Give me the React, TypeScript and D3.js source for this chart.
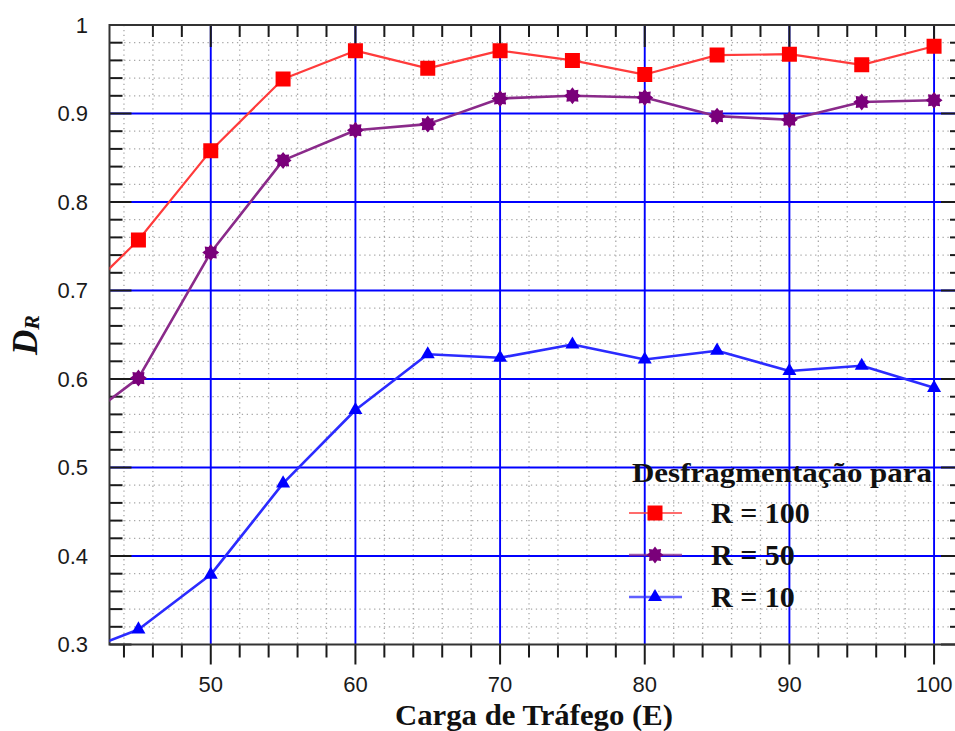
import React from "react";
import * as d3 from "d3";

// Traffic load (Erlang) and defragmentation ratio per R setting
const loads = [40, 45, 50, 55, 60, 65, 70, 75, 80, 85, 90, 95, 100];
const r100 = [0.677, 0.757, 0.858, 0.939, 0.971, 0.951, 0.971, 0.96, 0.944, 0.966, 0.967, 0.955, 0.976];
const r50 = [0.539, 0.601, 0.743, 0.847, 0.881, 0.888, 0.917, 0.92, 0.918, 0.897, 0.893, 0.913, 0.915];
const r10 = [0.285, 0.317, 0.379, 0.482, 0.565, 0.628, 0.624, 0.639, 0.622, 0.632, 0.609, 0.615, 0.59];

const xMajorTicks = [50, 60, 70, 80, 90, 100];
const yMajorTicks = [0.3, 0.4, 0.5, 0.6, 0.7, 0.8, 0.9, 1];
const yTickLabels = ["0.3", "0.4", "0.5", "0.6", "0.7", "0.8", "0.9", "1"];

const legendTitle = "Desfragmentação para";
const seriesNames = ["R = 100", "R = 50", "R = 10"];

const W = 955;
const H = 731;
const left = 109.5;
const right = 963;
const top = 25;
const bottom = 644.5;

const x = d3.scaleLinear().domain([43, 102]).range([left, right]);
const y = d3.scaleLinear().domain([0.3, 1]).range([bottom, top]);

const xMinor = d3.range(44, 103, 2).filter((v) => v % 10 !== 0);
const yMinor = d3
  .range(32, 100, 2)
  .filter((v) => v % 10 !== 0)
  .map((v) => v / 100);

function starPath(r: number, inner: number, n: number) {
  const pts: [number, number][] = [];
  for (let i = 0; i < n * 2; i++) {
    const a = (Math.PI * i) / n - Math.PI / 2;
    const rr = i % 2 === 0 ? r : inner;
    pts.push([Math.cos(a) * rr, Math.sin(a) * rr]);
  }
  return "M" + pts.map((p) => p.join(",")).join("L") + "Z";
}

const squareD = d3.symbol().type(d3.symbolSquare).size(15 * 15)()!;
const triD = d3.symbol().type(d3.symbolTriangle).size(85)()!;
const starD = starPath(8.5, 6, 8);

const series = [
  { name: seriesNames[0], values: r100, line: "#ff3b3b", fill: "#ff0000", marker: squareD, width: 2.2 },
  { name: seriesNames[1], values: r50, line: "#8a2a8a", fill: "#7a007a", marker: starD, width: 2.6 },
  { name: seriesNames[2], values: r10, line: "#2b2bff", fill: "#0000ff", marker: triD, width: 2.6 },
];

const lineGen = d3
  .line<number>()
  .x((_, i) => x(loads[i]))
  .y((d) => y(d));

export default function App() {
  const axisColor = "#1a1a1a";
  return (
    <div style={{ position: "fixed", left: 0, top: 0, width: W, height: H, background: "#fff" }}>
      <svg width={W} height={H} style={{ display: "block" }}>
        <defs>
          <clipPath id="plot">
            <rect x={left} y={top} width={right - left} height={bottom - top} />
          </clipPath>
        </defs>
        <rect x={0} y={0} width={W} height={H} fill="#fff" />

        {/* dotted minor grid */}
        <g stroke="#a8a8a8" strokeWidth={1.3} strokeDasharray="1.3 3.6">
          {xMinor.map((v) => (
            <line key={"vx" + v} x1={x(v)} x2={x(v)} y1={top} y2={bottom} />
          ))}
          {yMinor.map((v) => (
            <line key={"hy" + v} x1={left} x2={right} y1={y(v)} y2={y(v)} />
          ))}
        </g>

        {/* blue major grid */}
        <g stroke="#0000ff" strokeWidth={1.9}>
          {xMajorTicks.map((v) => (
            <line key={"gx" + v} x1={x(v)} x2={x(v)} y1={top} y2={bottom} />
          ))}
          {yMajorTicks.slice(1, -1).map((v) => (
            <line key={"gy" + v} x1={left} x2={right} y1={y(v)} y2={y(v)} />
          ))}
        </g>

        {/* ticks */}
        <g stroke={axisColor} strokeWidth={2}>
          {xMinor.map((v) => (
            <line key={"bt" + v} x1={x(v)} x2={x(v)} y1={bottom} y2={bottom + 13} />
          ))}
          {xMajorTicks.map((v) => (
            <line key={"bT" + v} x1={x(v)} x2={x(v)} y1={bottom} y2={bottom + 20} />
          ))}
          {xMinor.filter((v) => v > 44).map((v) => (
            <line key={"tt" + v} x1={x(v)} x2={x(v)} y1={top} y2={top + 12} />
          ))}
          {xMajorTicks.map((v) => (
            <line key={"tT" + v} x1={x(v)} x2={x(v)} y1={top} y2={top + 22} />
          ))}
          {yMinor.map((v) => (
            <g key={"yt" + v}>
              <line x1={left} x2={left + 13} y1={y(v)} y2={y(v)} />
              <line x1={right - 13} x2={right} y1={y(v)} y2={y(v)} />
            </g>
          ))}
          {yMajorTicks.map((v) => (
            <g key={"yT" + v}>
              <line x1={left} x2={left + 22} y1={y(v)} y2={y(v)} />
              <line x1={right - 22} x2={right} y1={y(v)} y2={y(v)} />
            </g>
          ))}
        </g>

        {/* frame */}
        <rect x={left} y={top} width={right - left} height={bottom - top} fill="none" stroke="#333" strokeWidth={2} />

        {/* series */}
        <g clipPath="url(#plot)">
          {series.map((s) => (
            <path key={s.name} d={lineGen(s.values)!} fill="none" stroke={s.line} strokeWidth={s.width} strokeLinejoin="round" />
          ))}
          {series.map((s) =>
            s.values.map((v, i) => (
              <path key={s.name + i} d={s.marker} transform={`translate(${x(loads[i])},${y(v)})`} fill={s.fill} />
            ))
          )}
        </g>

        {/* tick labels */}
        <g fontFamily="'Liberation Sans', Arial, sans-serif" fontSize={22} fill="#1a1a1a">
          {yMajorTicks.map((v, i) => (
            <text key={"yl" + v} x={88} y={y(v)} textAnchor="end" dominantBaseline="central">
              {yTickLabels[i]}
            </text>
          ))}
          {xMajorTicks.map((v) => (
            <text key={"xl" + v} x={x(v)} y={692} textAnchor="middle">
              {v}
            </text>
          ))}
        </g>

        {/* axis titles */}
        <text
          x={534}
          y={725}
          textAnchor="middle"
          fontFamily="'Liberation Serif', 'Times New Roman', serif"
          fontWeight="bold"
          fontSize={29}
          textLength={278}
          lengthAdjust="spacingAndGlyphs"
          fill="#111"
        >
          Carga de Tráfego (E)
        </text>
        <text
          transform="translate(37,355) rotate(-90)"
          fontFamily="'Liberation Serif', 'Times New Roman', serif"
          fontWeight="bold"
          fontStyle="italic"
          fill="#111"
        >
          <tspan fontSize={35}>D</tspan>
          <tspan fontSize={22} dy={2}>R</tspan>
        </text>

        {/* legend */}
        <g fontFamily="'Liberation Serif', 'Times New Roman', serif" fontWeight="bold" fill="#111">
          <text x={632} y={482} fontSize={28} textLength={300} lengthAdjust="spacingAndGlyphs">
            {legendTitle}
          </text>
          {series.map((s, i) => {
            const ly = 513 + i * 42;
            return (
              <g key={"lg" + s.name}>
                <line x1={629} x2={682} y1={ly} y2={ly} stroke={s.line} strokeWidth={s.width} opacity={0.75} />
                <path d={s.marker} transform={`translate(655,${ly})`} fill={s.fill} />
                <text x={711} y={ly + 10} fontSize={30}>
                  {s.name}
                </text>
              </g>
            );
          })}
        </g>
      </svg>
    </div>
  );
}
